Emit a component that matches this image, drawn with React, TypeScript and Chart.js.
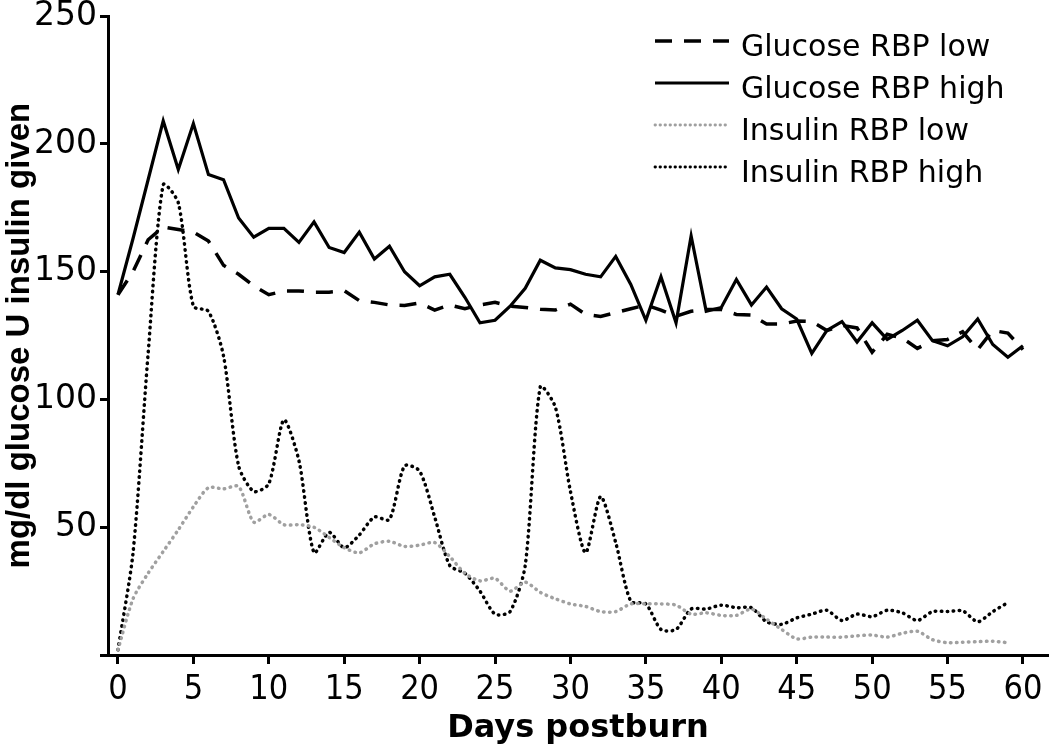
import React, { useEffect, useRef } from "react";
import { Chart, registerables } from "chart.js";

Chart.register(...registerables);

// ---- data ----
const glucoseDays = [
  0, 1, 2, 3, 4, 5, 6, 7, 8, 9, 10, 11, 12, 13, 14, 15, 16, 17, 18, 19, 20,
  21, 22, 23, 24, 25, 26, 27, 28, 29, 30, 31, 32, 33, 34, 35, 36, 37, 38, 39,
  40, 41, 42, 43, 44, 45, 46, 47, 48, 49, 50, 51, 52, 53, 54, 55, 56, 57, 58,
  59, 60,
];
const glucoseLow = [
  141, 150, 162.5, 167.5, 166.5, 165.5, 162, 152.5, 149, 144.5, 141, 142.5,
  142.5, 142, 142, 142.6, 138.7, 138, 137, 136.8, 137.8, 135, 137, 135.5, 137,
  138, 136.5, 136, 135.3, 135, 137.3, 133.3, 132.5, 134, 135.5, 137, 135,
  132.6, 134.5, 135.2, 135.2, 133.3, 133, 129.5, 129.5, 130.7, 130.5, 127,
  129, 128, 118.5, 125.5, 124, 120, 123, 123.5, 126.5, 119.5, 127, 126, 119.5,
];
const glucoseHigh = [
  141, 163, 186, 209, 190, 208, 188, 186, 171, 163.5, 167, 167, 161.5, 169.5,
  159.5, 157.5, 165.5, 155, 160, 150, 144.5, 148, 149, 140, 130, 131, 136.5,
  143.5, 154.5, 151.5, 150.8, 149, 148, 156, 145, 131, 148, 130, 164, 134.5,
  136, 147, 137, 144, 135.5, 131.5, 118, 127, 130.5, 122.5, 130, 123.5, 127,
  131, 123, 121, 124.5, 131.5, 121.5, 116.5, 121,
];
const insulinDays = [
  0, 1, 2, 3, 4, 5, 6, 7, 8, 9, 10, 11, 12, 13, 14, 15, 16, 17, 18, 19, 20,
  21, 22, 23, 24, 25, 26, 27, 28, 29, 30, 31, 32, 33, 34, 35, 36, 37, 38, 39,
  40, 41, 42, 43, 44, 45, 46, 47, 48, 49, 50, 51, 52, 53, 54, 55, 56, 57, 58,
  59,
];
const insulinLow = [
  2, 22, 32, 40.5, 49, 58, 65.5, 65, 66, 52, 55, 51, 51, 50, 46, 42, 40, 43.5,
  44.5, 42.5, 43, 44, 38.5, 32, 29, 30, 25, 28.5, 24.5, 22, 20, 19, 17, 17, 20,
  20, 20, 19.5, 16, 16.5, 15.5, 15.5, 18, 14, 10, 6.3, 7, 7, 7, 7.5, 7.8, 7,
  8.5, 9.3, 6, 4.8, 5, 5.2, 5.4, 4.8,
];
const insulinHigh = [
  2, 40, 118, 184, 177, 136.5, 134.5, 117, 74, 64, 67, 92, 76, 40, 48, 42, 47,
  54, 53, 74, 72, 54, 35, 32, 25, 16, 17, 35, 105, 97, 64, 40, 62, 44, 21, 20,
  10, 10, 18, 18, 19.5, 18.5, 18.5, 13, 12, 14.5, 16, 17.5, 13.5, 16, 15, 17.5,
  16.5, 13.5, 17, 17, 17.3, 13, 17, 20.5,
];
const seriesLabels = [
  "Glucose RBP low",
  "Glucose RBP high",
  "Insulin RBP low",
  "Insulin RBP high",
];
const xTickValues = [0, 5, 10, 15, 20, 25, 30, 35, 40, 45, 50, 55, 60];
const yTickValues = [0, 50, 100, 150, 200, 250];
const xTitle = "Days postburn";
const yTitle = "mg/dl glucose U insulin given";

const toPoints = (xs: number[], ys: number[]) =>
  xs.map((x, i) => ({ x, y: ys[i] }));

const legendPlugin = {
  id: "customLegend",
  afterDraw(chart: any) {
    const ctx = chart.ctx as CanvasRenderingContext2D;
    const x0 = 655;
    const x1 = 729;
    const textX = 741;
    chart.data.datasets.forEach((ds: any, i: number) => {
      const y = 41 + i * 42;
      ctx.save();
      ctx.strokeStyle = ds.borderColor;
      ctx.lineWidth = ds.legendLineWidth ?? ds.borderWidth;
      ctx.setLineDash(ds.legendDash ?? ds.borderDash ?? []);
      ctx.lineCap = ds.borderCapStyle || "butt";
      ctx.beginPath();
      ctx.moveTo(x0, y);
      ctx.lineTo(x1, y);
      ctx.stroke();
      ctx.setLineDash([]);
      ctx.fillStyle = "#000";
      ctx.font = '30px "DejaVu Sans"';
      ctx.textBaseline = "alphabetic";
      ctx.textAlign = "left";
      ctx.fillText(ds.label, textX, y + 14.5);
      ctx.restore();
    });
  },
};

export default function App() {
  const ref = useRef<HTMLCanvasElement | null>(null);

  useEffect(() => {
    document.body.style.margin = "0";
    if (!ref.current) return;
    const chart = new Chart(ref.current, {
      type: "line",
      data: {
        datasets: [
          {
            label: seriesLabels[0],
            data: toPoints(glucoseDays, glucoseLow),
            borderColor: "#000",
            borderWidth: 3.5,
            borderDash: [17, 12],
            pointRadius: 0,
            tension: 0,
            fill: false,
          },
          {
            label: seriesLabels[1],
            data: toPoints(glucoseDays, glucoseHigh),
            borderColor: "#000",
            borderWidth: 3.2,
            pointRadius: 0,
            tension: 0,
            fill: false,
          },
          {
            label: seriesLabels[2],
            data: toPoints(insulinDays, insulinLow),
            borderColor: "#a0a0a0",
            borderWidth: 3.5,
            borderDash: [0.5, 5.5],
            borderCapStyle: "round",
            legendDash: [0.5, 4.5],
            legendLineWidth: 2.8,
            pointRadius: 0,
            tension: 0.25,
            fill: false,
          } as any,
          {
            label: seriesLabels[3],
            data: toPoints(insulinDays, insulinHigh),
            borderColor: "#000",
            borderWidth: 3.5,
            borderDash: [0.5, 5.5],
            borderCapStyle: "round",
            legendDash: [0.5, 4.5],
            legendLineWidth: 2.8,
            pointRadius: 0,
            tension: 0.25,
            fill: false,
          } as any,
        ],
      },
      options: {
        animation: false,
        responsive: false,
        devicePixelRatio: 1,
        layout: { padding: { left: 0, top: 14, right: 2, bottom: 0 } },
        plugins: {
          legend: { display: false },
          tooltip: { enabled: false },
        },
        scales: {
          x: {
            type: "linear",
            min: -0.66,
            max: 61.66,
            afterBuildTicks: (axis: any) => {
              axis.ticks = xTickValues.map((v) => ({ value: v }));
            },
            afterFit: (scale: any) => {
              scale.height = 94;
            },
            ticks: {
              color: "#000",
              padding: 6,
              autoSkip: false,
              maxRotation: 0,
              font: {
                family: '"Liberation Sans Narrow", "DejaVu Sans Condensed", sans-serif',
                size: 34,
                lineHeight: 1.2,
              },
            },
            grid: {
              drawOnChartArea: false,
              drawTicks: true,
              tickLength: 9,
              tickWidth: 3,
              tickColor: "#000",
            },
            border: { display: true, color: "#000", width: 3 },
            title: {
              display: true,
              text: xTitle,
              color: "#000",
              padding: { top: 0, bottom: 1 },
              font: {
                family: '"DejaVu Sans", sans-serif',
                size: 32,
                weight: "bold",
                lineHeight: 1.2,
              },
            },
          },
          y: {
            type: "linear",
            min: 0,
            max: 250,
            afterBuildTicks: (axis: any) => {
              axis.ticks = yTickValues.map((v) => ({ value: v }));
            },
            afterFit: (scale: any) => {
              scale.width = 108;
            },
            ticks: {
              color: "#000",
              padding: 3,
              callback: (v: any) => (v === 0 ? "" : String(v)),
              font: {
                family: '"DejaVu Sans", sans-serif',
                size: 33,
                lineHeight: 0.8,
              },
            },
            grid: {
              drawOnChartArea: false,
              drawTicks: true,
              tickLength: 8,
              tickWidth: 3,
              tickColor: "#000",
            },
            border: { display: true, color: "#000", width: 3 },
            title: {
              display: true,
              text: yTitle,
              color: "#000",
              padding: { top: 0, bottom: 0 },
              font: {
                family: '"Liberation Sans", Arial, sans-serif',
                size: 33,
                weight: "bold",
                lineHeight: 1.2,
              },
            },
          },
        },
      },
      plugins: [legendPlugin],
    } as any);
    return () => chart.destroy();
  }, []);

  return (
    <div style={{ width: 1050, height: 749 }}>
      <canvas ref={ref} width={1050} height={749} />
    </div>
  );
}
